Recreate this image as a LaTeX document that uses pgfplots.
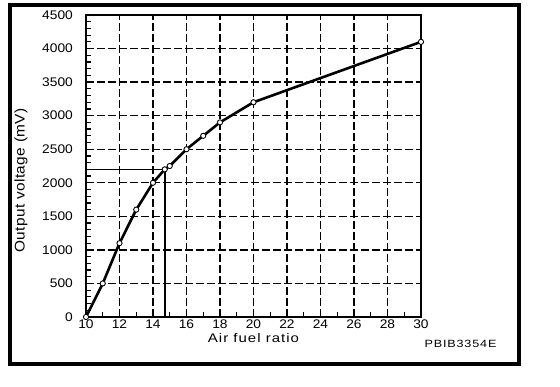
\documentclass[border=0pt]{standalone}
\usepackage{fontspec}
\setmainfont{Liberation Sans}[FakeStretch=1.1]
\newfontfamily\labfont{Liberation Sans}[FakeStretch=1.2, LetterSpace=8]
\newfontfamily\ylabfont{Liberation Sans}[FakeStretch=1.1, LetterSpace=3]
\usepackage{pgfplots}
\pgfplotsset{compat=1.18}
\begin{document}
\begin{tikzpicture}[x=1pt,y=1pt]
\useasboundingbox (0,0) rectangle (560,386);
\draw[line width=4pt] (9.5,22.3) rectangle (518.5,381);
\begin{axis}[
  at={(86pt,69pt)}, anchor=south west,
  scale only axis, width=335pt, height=302pt,
  xmin=10, xmax=30, ymin=0, ymax=4500,
  xtick={10,12,...,30}, ytick={0,500,...,4500},
  minor x tick num=1, minor y tick num=4,
  tick align=inside, tick pos=left,
  major tick length=5pt, minor tick length=5pt,
  every tick/.style={line width=1.2pt, black},
  axis line style={line width=1.8pt},
  grid=major,
  major grid style={dashed, dash pattern=on 8pt off 3pt, line width=1.4pt, black},
  /pgf/number format/assume math mode=true,
  /pgf/number format/1000 sep={},
  tick label style={font=\fontsize{12.5}{14}\selectfont},
  xticklabel style={anchor=north, inner sep=0pt, yshift=-2.5pt},
  yticklabel style={anchor=east, inner sep=0pt, xshift=-13pt},
  xlabel={Air fuel ratio},
  ylabel={Output voltage (mV)},
  xlabel style={font=\labfont\fontsize{12.5}{14}\selectfont, at={(axis description cs:0.5,-0.07)}, anchor=center},
  ylabel style={font=\ylabfont\fontsize{14}{16}\selectfont, at={(axis description cs:-0.194,0.452)}, anchor=center, rotate=0},
  clip=false,
]
\addplot[black, line width=1pt] coordinates {(10,2200) (14.7,2200)};
\addplot[black, line width=1.6pt] coordinates {(14.7,2200) (14.7,0)};
\addplot[black, line width=2.6pt, mark=*, mark size=2.6pt,
  mark options={fill=white, draw=black, line width=0.9pt}] coordinates {
  (10,0) (11,500) (12,1100) (13,1600) (14,2000) (14.7,2200) (15,2250)
  (16,2500) (17,2700) (18,2900) (20,3200) (30,4100)
};
\end{axis}
\node[font=\labfont\fontsize{10.5}{12}\selectfont, anchor=center] at (460.5,42) {PBIB3354E};
\end{tikzpicture}
\end{document}
